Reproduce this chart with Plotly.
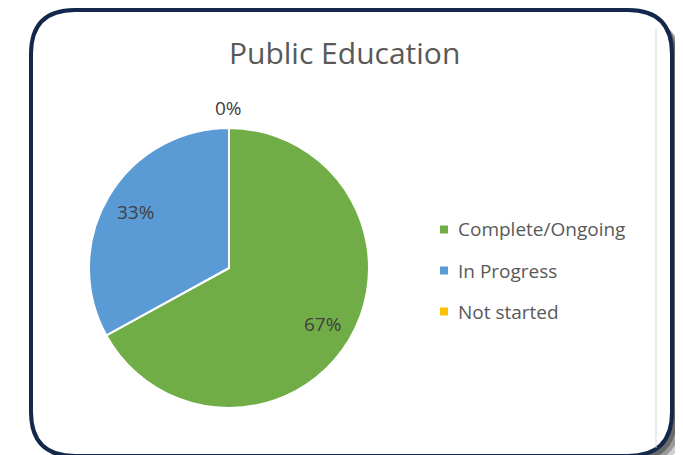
import math
import plotly.graph_objects as go

# the page body has an 8px default margin; figure sized so it ends at the window edge
OFF = 8
W, H = 683 - OFF, 455 - OFF

title = "Public Education"
labels = ["Complete/Ongoing", "In Progress", "Not started"]
values = [67, 33, 0]
colors = ["#70AD47", "#5B9BD5", "#FFC000"]

FONT = "Open Sans"
TEXT_COLOR = "#404040"
LEG_COLOR = "#595959"

def px(x):
    return (x - OFF) / W

def py(y):
    return 1 - (y - OFF) / H

# pie geometry (window pixels)
cx, cy, r = 229, 268, 140

fig = go.Figure()
fig.add_trace(go.Pie(
    labels=labels, values=values, sort=False, direction="clockwise", rotation=0,
    marker=dict(colors=colors, line=dict(color="white", width=2)),
    textinfo="none", hoverinfo="label+percent", showlegend=False,
    domain=dict(x=[px(cx - r), px(cx + r)], y=[py(cy + r), py(cy - r)]),
))

# data labels from values
total = sum(values)
cum = 0
annotations = []
for lab, v in zip(labels, values):
    frac = v / total
    mid = (cum + frac / 2) if v > 0 else cum
    cum += frac
    ang = 2 * math.pi * mid
    rr = 0.78 * r if v > 0 else 1.14 * r
    x = cx + rr * math.sin(ang)
    y = cy - rr * math.cos(ang)
    annotations.append(dict(x=px(x), y=py(y), xref="paper", yref="paper",
                            xanchor="center", yanchor="middle",
                            text=f"{round(100 * frac)}%", showarrow=False,
                            font=dict(family=FONT, size=19, color=TEXT_COLOR)))

# manual legend
shapes = []
leg_y = [229.5 + 41 * i for i in range(len(labels))]
for ly, col, lab in zip(leg_y, colors, labels):
    shapes.append(dict(type="rect", xref="paper", yref="paper",
                       x0=px(440), x1=px(448), y0=py(ly + 4), y1=py(ly - 4),
                       fillcolor=col, line=dict(width=0), layer="above"))
    annotations.append(dict(x=px(456), y=py(ly), xref="paper", yref="paper",
                            xanchor="left", yanchor="middle", text=lab, showarrow=False,
                            font=dict(family=FONT, size=19, color=LEG_COLOR)))

# title
annotations.append(dict(x=px(344), y=py(52), xref="paper", yref="paper",
                        xanchor="center", yanchor="middle", text=title, showarrow=False,
                        font=dict(family=FONT, size=30, color=LEG_COLOR)))

def rrect(x0, y0, x1, y1, rad):
    X = lambda v: f"{px(v):.5f}"
    Y = lambda v: f"{py(v):.5f}"
    return (f"M {X(x0 + rad)},{Y(y0)} L {X(x1 - rad)},{Y(y0)} "
            f"Q {X(x1)},{Y(y0)} {X(x1)},{Y(y0 + rad)} L {X(x1)},{Y(y1 - rad)} "
            f"Q {X(x1)},{Y(y1)} {X(x1 - rad)},{Y(y1)} L {X(x0 + rad)},{Y(y1)} "
            f"Q {X(x0)},{Y(y1)} {X(x0)},{Y(y1 - rad)} L {X(x0)},{Y(y0 + rad)} "
            f"Q {X(x0)},{Y(y0)} {X(x0 + rad)},{Y(y0)} Z")

bx0, by0, bx1, by1, rad = 31, 10, 672, 456, 44
# shadow
for off, op in [(11, 0.25), (8, 0.35), (5, 0.5)]:
    shapes.insert(0, dict(type="path", xref="paper", yref="paper",
                          path=rrect(bx0 + off, by0 + off, bx1 + off, by1 + off, rad),
                          fillcolor="#3a3a3a", opacity=op, line=dict(width=0), layer="below"))
shapes.append(dict(type="path", xref="paper", yref="paper",
                   path=rrect(bx0, by0, bx1, by1, rad),
                   fillcolor="white", line=dict(color="#13284A", width=4), layer="below"))
# inner chart-area edge
shapes.append(dict(type="line", xref="paper", yref="paper",
                   x0=px(656), x1=px(656), y0=py(28), y1=py(448),
                   line=dict(color="#D9D9D9", width=1), layer="below"))

fig.update_layout(
    width=W, height=H, margin=dict(l=0, r=0, t=0, b=0),
    paper_bgcolor="white", plot_bgcolor="white",
    shapes=shapes, annotations=annotations, showlegend=False,
)

fig.write_html("out.html")
